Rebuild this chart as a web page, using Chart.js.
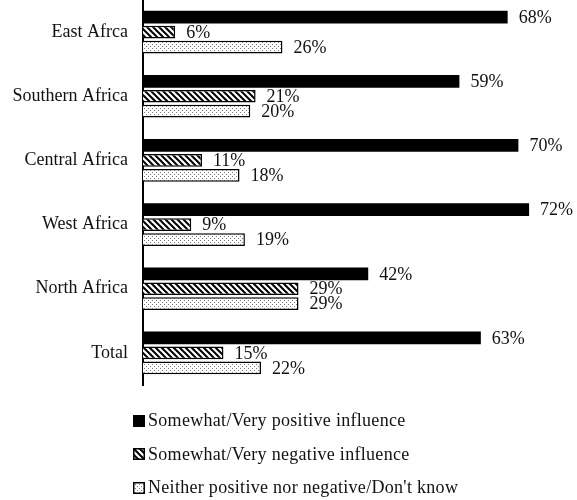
<!DOCTYPE html>
<html>
<head>
<meta charset="utf-8">
<script src="https://cdn.jsdelivr.net/npm/chart.js@4/dist/chart.umd.min.js"></script>
<style>
  html, body { margin: 0; padding: 0; background: #fff; }
  #wrap { position: relative; width: 577px; height: 500px; }
  #c { position: absolute; left: 0; top: 0; }
  #legend { position: absolute; left: 133px; top: 404px; font-family: "Liberation Serif", serif; font-size: 18px; letter-spacing: 0.3px; color: #111; }
  .item { display: flex; align-items: center; height: 33.5px; }
  .item canvas { margin-right: 3px; }
</style>
</head>
<body>
<div id="wrap">
  <canvas id="c" width="577" height="392"></canvas>
  <div id="legend"></div>
</div>
<script>
const categories = ["East Afrca", "Southern Africa", "Central Africa", "West Africa", "North Africa", "Total"];
const seriesNames = ["Somewhat/Very positive influence", "Somewhat/Very negative influence", "Neither positive nor negative/Don't know"];
const positiveValues = [68, 59, 70, 72, 42, 63];
const negativeValues = [6, 21, 11, 9, 29, 15];
const neitherValues = [26, 20, 18, 19, 29, 22];

function hatchPattern() {
  const p = document.createElement('canvas');
  p.width = 6; p.height = 6;
  const g = p.getContext('2d');
  g.fillStyle = '#fff'; g.fillRect(0, 0, 6, 6);
  g.strokeStyle = '#000'; g.lineWidth = 2;
  g.beginPath();
  g.moveTo(-3, -3); g.lineTo(9, 9);
  g.moveTo(-3, 3); g.lineTo(3, 9);
  g.moveTo(3, -3); g.lineTo(9, 3);
  g.stroke();
  return g.createPattern(p, 'repeat');
}
function dotPattern() {
  const p = document.createElement('canvas');
  p.width = 4; p.height = 4;
  const g = p.getContext('2d');
  g.fillStyle = '#fff'; g.fillRect(0, 0, 4, 4);
  g.fillStyle = '#777';
  g.fillRect(0, 0, 1, 1);
  g.fillRect(2, 2, 1, 1);
  return g.createPattern(p, 'repeat');
}
const fills = ['#000', hatchPattern(), dotPattern()];

const valueLabels = {
  id: 'valueLabels',
  afterDatasetsDraw(chart) {
    const ctx = chart.ctx;
    ctx.save();
    ctx.font = '18px "Liberation Serif", serif';
    ctx.fillStyle = '#111';
    ctx.textBaseline = 'middle';
    ctx.textAlign = 'left';
    chart.data.datasets.forEach((ds, i) => {
      chart.getDatasetMeta(i).data.forEach((el, j) => {
        ctx.fillText(ds.data[j] + '%', el.x + 11, el.y + 1);
      });
    });
    ctx.restore();
  }
};

const chart = new Chart(document.getElementById('c'), {
  type: 'bar',
  data: {
    labels: categories,
    datasets: [
      { label: seriesNames[0], data: positiveValues, backgroundColor: fills[0], borderColor: '#000', borderWidth: 0 },
      { label: seriesNames[1], data: negativeValues, backgroundColor: fills[1], borderColor: '#000', borderWidth: 1.5 },
      { label: seriesNames[2], data: neitherValues, backgroundColor: fills[2], borderColor: '#000', borderWidth: 1.5 }
    ]
  },
  options: {
    indexAxis: 'y',
    responsive: false,
    animation: false,
    layout: { padding: { top: 0, right: 5, bottom: 7, left: 0 } },
    datasets: { bar: { categoryPercentage: 0.7, barPercentage: 0.85 } },
    plugins: { legend: { display: false }, tooltip: { enabled: false } },
    scales: {
      x: { display: false, min: 0, max: 80 },
      y: {
        afterFit(scale) { scale.width = 143; scale.paddingTop = 0; scale.paddingBottom = 0; },
        grid: { display: false, drawTicks: false },
        border: { display: true, color: '#000', width: 2 },
        ticks: { color: '#111', padding: 15, font: { family: '"Liberation Serif", serif', size: 18 } }
      }
    }
  },
  plugins: [valueLabels]
});

const legend = document.getElementById('legend');
seriesNames.forEach((name, i) => {
  const row = document.createElement('div');
  row.className = 'item';
  const sw = document.createElement('canvas');
  sw.width = 12; sw.height = 12;
  const g = sw.getContext('2d');
  g.fillStyle = fills[i];
  g.fillRect(0, 0, 12, 12);
  g.strokeStyle = '#000'; g.lineWidth = 1.5;
  g.strokeRect(0.75, 0.75, 10.5, 10.5);
  row.appendChild(sw);
  const t = document.createElement('span');
  t.textContent = name;
  row.appendChild(t);
  legend.appendChild(row);
});
</script>
</body>
</html>
